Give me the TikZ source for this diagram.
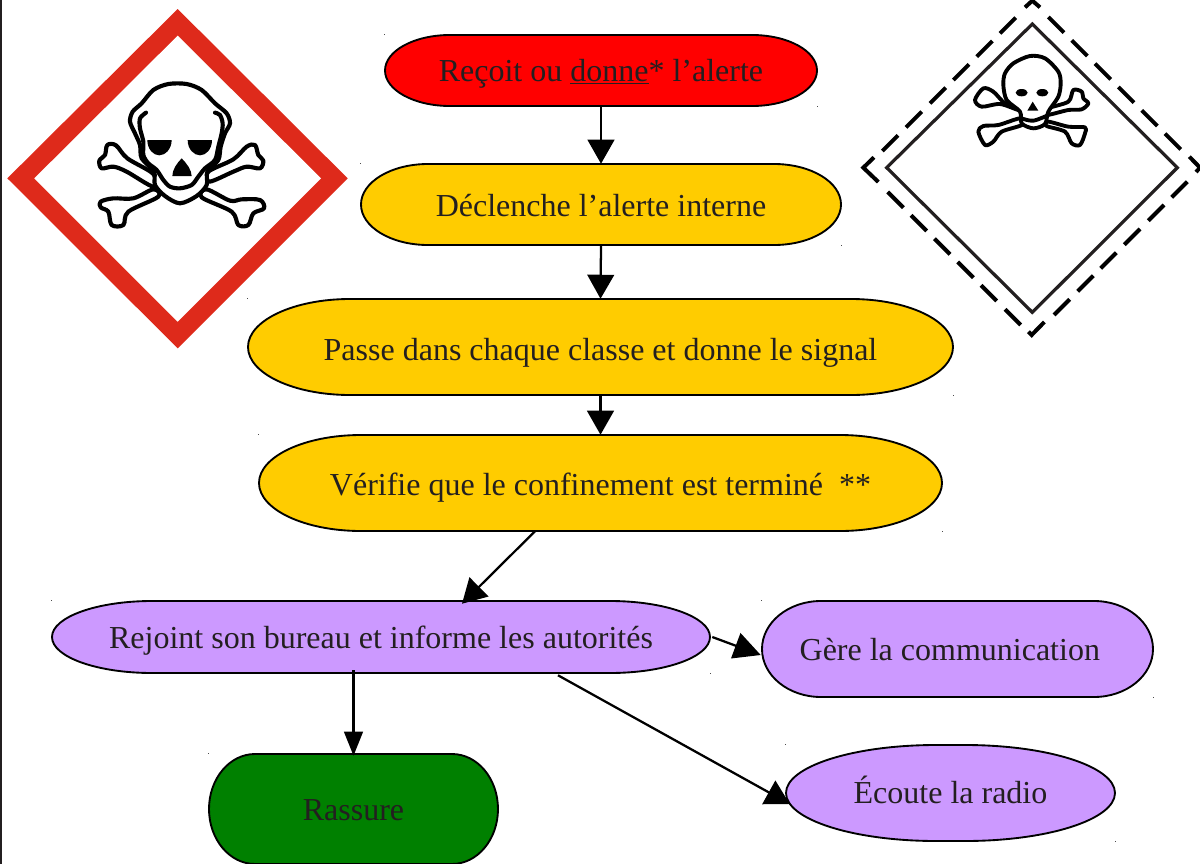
\documentclass[tikz,border=0pt]{standalone}
\usepackage{fontspec}
\setmainfont{Liberation Serif}
\usetikzlibrary{arrows.meta,calc}
\definecolor{inkdark}{HTML}{231F20}
\definecolor{alertred}{HTML}{FF0000}
\definecolor{gold}{HTML}{FFCC00}
\definecolor{lilac}{HTML}{CC99FF}
\definecolor{darkgreen}{HTML}{008000}
\definecolor{ghsred}{HTML}{DE2A1B}
\newcommand\ulword[1]{\setbox0\hbox{#1}\rlap{\rule[-2.4pt]{\wd0}{0.9pt}}\box0}
% name, x0, y0, x1, y1, rx, fill, text, baseline y
\newcommand\pillnode[9]{%
  \pgfmathsetmacro\pcx{(#2+#4)/2}%
  \pgfmathsetmacro\pcy{(#3+#5)/2}%
  \pgfmathsetmacro\pry{(#5-#3)/2}%
  \pgfmathsetmacro\pkx{0.5523*#6}%
  \pgfmathsetmacro\pky{0.5523*\pry}%
  \pgfmathsetmacro\pxl{#2+#6}%
  \pgfmathsetmacro\pxr{#4-#6}%
  \pgfmathsetmacro\ptw{(#4-#2)*0.75}%
  \pgfmathsetmacro\pth{(#5-#3)*0.75}%
  \pgfmathsetmacro\ptd{21-2*(#9-\pcy)*0.75}%
  \path[pillline,fill=#7] (\pxl,#3) -- (\pxr,#3)
    .. controls (\pxr+\pkx,#3) and (#4,\pcy-\pky) .. (#4,\pcy)
    .. controls (#4,\pcy+\pky) and (\pxr+\pkx,#5) .. (\pxr,#5)
    -- (\pxl,#5)
    .. controls (\pxl-\pkx,#5) and (#2,\pcy+\pky) .. (#2,\pcy)
    .. controls (#2,\pcy-\pky) and (\pxl-\pkx,#3) .. (\pxl,#3) -- cycle;
  \node[pilltext,minimum width=\ptw pt,minimum height=\pth pt,text depth=\ptd pt] (#1) at (\pcx,\pcy) {#8};
  \fill[speck] (#2-1,#3-1) rectangle ++(1,1);
  \fill[speck] (#4,#5) rectangle ++(1,1);
}
\tikzset{
  pillline/.style={draw=black,line width=1.4pt},
  pilltext/.style={inner sep=0pt,text=inkdark,text height=21pt,font=\fontsize{24}{28}\selectfont},
  speck/.style={fill=black!70},
  conn/.style={draw=black,line width=1.7pt},
  headA/.style={-{Triangle[length=18pt,width=20pt,inset=0pt]}},
  headB/.style={-{Triangle[length=18pt,width=14pt,inset=0pt]}},
  headC/.style={-{Triangle[length=20pt,width=20pt,inset=0pt]}},
  bone/.style={draw=black,fill=white,line width=3.1pt,line join=round},
  skullline/.style={draw=black,line width=3.1pt,line join=round,line cap=round},
  boneB/.style={draw=black,fill=white,line width=2.9pt,line join=round},
  skulllineB/.style={draw=black,line width=2.9pt,line join=round,line cap=round},
  placard/.style={draw=inkdark,line width=2.4pt,line join=miter},
  dashpiece/.style={draw=black,line width=3pt},
}
\begin{document}
\begin{tikzpicture}[x=0.75pt,y=-0.75pt]
\useasboundingbox (0,0) rectangle (1200,864);
\fill[white] (0,0) rectangle (1200,864);
\fill[inkdark] (0,0) rectangle (1.5,864);

% GHS pictogram (coordinates at 3x)
\begin{scope}[x=0.25pt,y=-0.25pt]
  \fill[ghsred] (533,27) -- (1043,535) -- (533,1045) -- (22,535) -- cycle;
  \fill[white] (533,107) -- (963,535) -- (533,965) -- (103,535) -- cycle;
\end{scope}
\begin{scope}[shift={(90,70)},x=0.25pt,y=-0.25pt]
  \draw[bone] plot[smooth cycle,tension=.55] coordinates {(190,312) (112,265) (78,226) (52,225) (45,255) (28,272) (35,295) (70,290) (110,305) (190,350)};
  \draw[bone] plot[smooth cycle,tension=.55] coordinates {(190,358) (130,385) (70,385) (32,395) (32,412) (55,425) (65,465) (100,465) (115,425) (205,380)};
  \draw[bone] plot[smooth cycle,tension=.55] coordinates {(355,305) (430,268) (470,230) (495,225) (505,255) (520,272) (510,295) (470,290) (430,305) (358,335)};
  \draw[bone] plot[smooth cycle,tension=.55] coordinates {(350,358) (420,392) (455,388) (510,390) (522,415) (490,430) (475,465) (445,465) (425,425) (335,382)};
  \draw[bone] plot[smooth cycle,tension=.5] coordinates {(192,305) (195,345) (225,378) (270,400) (320,378) (350,345) (352,305) (385,270) (392,230) (405,190) (420,160) (410,130) (375,100) (335,60) (290,42) (235,42) (190,60) (155,100) (128,125) (120,155) (135,190) (150,225) (155,265)};
  \draw[skullline] plot[smooth,tension=.5] coordinates {(168,128) (150,145) (150,175) (160,215) (160,255) (175,280) (200,300) (220,330) (240,350) (270,355) (305,345) (325,320) (345,295) (375,270) (385,230) (395,190) (398,160) (390,135) (375,128)};
  \fill[black] (172,210) -- (245,210) .. controls (245,238) and (225,256) .. (208,256) .. controls (190,256) and (172,238) .. (172,210) -- cycle;
  \fill[black] (293,210) -- (366,210) .. controls (366,238) and (348,256) .. (330,256) .. controls (312,256) and (293,238) .. (293,210) -- cycle;
  \fill[black] (275,265) .. controls (290,280) and (305,300) .. (305,318) -- (247,318) .. controls (247,300) and (260,280) .. (275,265) -- cycle;
\end{scope}

% Transport placard (coordinates at 3x)
\begin{scope}[shift={(850,0)},x=0.25pt,y=-0.25pt]
  \draw[placard] (547,72) -- (982,503) -- (547,937) -- (110,503) -- cycle;
  \foreach \a in {595,665,735,805,875,945} \draw[dashpiece] (\a,\a-544) -- (\a+47,\a-497);
  \foreach \a in {450,380,310,240,168,97} \draw[dashpiece] (\a,550-\a) -- (\a+47,503-\a);
  \foreach \a in {113,183,253,323,393,465} \draw[dashpiece] (\a,\a+463) -- (\a+47,\a+510);
  \foreach \a in {612,683,752,823,895,965} \draw[dashpiece] (\a,1557-\a) -- (\a+47,1510-\a);
  \draw[dashpiece] (525,22) -- (547,2) -- (570,22);
  \draw[dashpiece] (72,472) -- (40,503) -- (85,546);
  \draw[dashpiece] (1018,470) -- (1050,503) -- (1038,516);
  \draw[dashpiece] (583,966) -- (545,1005) -- (535,995);
\end{scope}
\begin{scope}[shift={(970,50)},x=0.25pt,y=-0.25pt]
  \draw[boneB] plot[smooth cycle,tension=.5] coordinates {(145,180) (90,162) (35,170) (15,150) (40,115) (70,125) (105,160) (148,172)};
  \draw[boneB] plot[smooth cycle,tension=.5] coordinates {(150,205) (85,225) (40,228) (25,245) (45,285) (70,275) (95,245) (155,225)};
  \draw[boneB] plot[smooth cycle,tension=.5] coordinates {(235,175) (295,155) (310,120) (335,125) (340,145) (355,160) (335,178) (295,180) (230,195)};
  \draw[boneB] plot[smooth cycle,tension=.5] coordinates {(235,215) (295,230) (345,232) (345,250) (330,285) (305,280) (285,245) (230,228)};
  \draw[boneB] plot[smooth cycle,tension=.5] coordinates {(150,185) (155,220) (190,235) (225,222) (235,185) (265,140) (272,100) (265,65) (225,25) (180,18) (130,40) (105,70) (100,105) (110,150)};
  \draw[skulllineB] plot[smooth,tension=.6] coordinates {(155,205) (190,212) (235,195)};
  \fill[black] (155,128) ellipse[x radius=18,y radius=11];
  \fill[black] (217,128) ellipse[x radius=18,y radius=11];
  \fill[black] (188,155) -- (205,182) -- (172,182) -- cycle;
\end{scope}

% Nodes
\pillnode{recoit}{385}{35}{817}{106}{65}{alertred}{Reçoit ou \ulword{donne}* l’alerte}{81}
\pillnode{declenche}{361}{164}{841}{245}{67}{gold}{Déclenche l’alerte interne}{216.5}
\pillnode{passe}{248}{299}{953}{395}{102}{gold}{Passe dans chaque classe et donne le signal}{360}
\pillnode{verifie}{259}{435}{942}{531}{102}{gold}{Vérifie que le confinement est terminé~~**}{495}
\pillnode{rejoint}{52}{601}{710}{673}{100}{lilac}{Rejoint son bureau et informe les autorités}{648}
\pillnode{gere}{762}{601}{1153}{697}{59}{lilac}{\kern-11.5pt Gère la communication}{660.5}
\pillnode{rassure}{209}{754}{498}{864}{46}{darkgreen}{Rassure}{820.5}
\pillnode{ecoute}{786}{745}{1115}{841}{150}{lilac}{Écoute la radio}{803}

% Connectors
\draw[conn,headA] (recoit.south) -- (declenche.north);
\draw[conn,headA] (declenche.south) -- (passe.north);
\draw[conn,headA] (passe.south) -- (verifie.north);
\draw[conn,headA] ($(verifie.south)+(-65.5,0)$) -- ($(rejoint.north)+(81,3)$);
\draw[conn,headC] ($(rejoint.east)+(2,0)$) -- ($(gere.west)+(-1,6)$);
\draw[conn,headB] ($(rassure.north |- rejoint.south)+(0,-3)$) -- ($(rassure.north)+(0,2)$);
\draw[conn,headA] ($(rejoint.south)+(177,2)$) -- ($(ecoute.west)+(4,11)$);
\end{tikzpicture}
\end{document}
